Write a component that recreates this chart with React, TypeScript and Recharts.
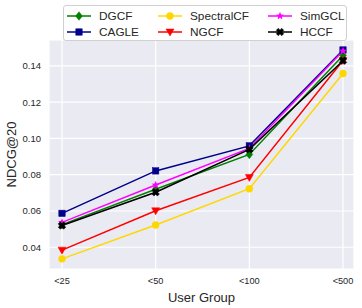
import React from 'react';
import { LineChart, Line, XAxis, YAxis, CartesianGrid, Legend, Label } from 'recharts';

const groups = ['<25', '<50', '<100', '<500'];
const dgcf = [0.0525, 0.0720, 0.0912, 0.1458];
const cagle = [0.0587, 0.0821, 0.0959, 0.1488];
const spectralcf = [0.0336, 0.0523, 0.0723, 0.1358];
const ngcf = [0.0384, 0.0601, 0.0785, 0.1430];
const simgcl = [0.0537, 0.0743, 0.0945, 0.1482];
const hccf = [0.0520, 0.0703, 0.0940, 0.1429];
const yTicks = [0.04, 0.06, 0.08, 0.10, 0.12, 0.14];

const seriesDefs = [
  { key: 'DGCF', values: dgcf, color: '#008000', shape: 'diamond' },
  { key: 'CAGLE', values: cagle, color: '#00008B', shape: 'square' },
  { key: 'SpectralCF', values: spectralcf, color: '#FFD700', shape: 'circle' },
  { key: 'NGCF', values: ngcf, color: '#FF0000', shape: 'triangle' },
  { key: 'SimGCL', values: simgcl, color: '#FF00FF', shape: 'star' },
  { key: 'HCCF', values: hccf, color: '#000000', shape: 'x' },
];

const data = groups.map((g, i) => {
  const row: any = { group: g };
  seriesDefs.forEach((s) => { row[s.key] = s.values[i]; });
  return row;
});

const FONT = '"Liberation Sans", Arial, Helvetica, sans-serif';

function MarkerShape({ shape, cx, cy, color }: any) {
  switch (shape) {
    case 'diamond':
      return <polygon points={`${cx},${cy - 4.3} ${cx + 3.4},${cy} ${cx},${cy + 4.3} ${cx - 3.4},${cy}`} fill={color} stroke={color} strokeWidth={0.5} />;
    case 'square':
      return <rect x={cx - 3.2} y={cy - 3.2} width={6.4} height={6.4} fill={color} stroke={color} strokeWidth={0.5} />;
    case 'circle':
      return <circle cx={cx} cy={cy} r={3.7} fill={color} />;
    case 'triangle':
      return <polygon points={`${cx - 4},${cy - 3} ${cx + 4},${cy - 3} ${cx},${cy + 4}`} fill={color} stroke={color} strokeWidth={0.5} />;
    case 'star': {
      const pts: string[] = [];
      for (let k = 0; k < 10; k++) {
        const r = k % 2 === 0 ? 4.2 : 1.8;
        const a = -Math.PI / 2 + (k * Math.PI) / 5;
        pts.push(`${cx + r * Math.cos(a)},${cy + r * Math.sin(a)}`);
      }
      return <polygon points={pts.join(' ')} fill={color} />;
    }
    case 'x': {
      const s = 3.8, w = 2.1;
      const p = [
        [-s, -s + w], [-s + w, -s], [0, -w], [s - w, -s], [s, -s + w], [w, 0],
        [s, s - w], [s - w, s], [0, w], [-s + w, s], [-s, s - w], [-w, 0],
      ];
      return <polygon points={p.map(([x, y]) => `${cx + x},${cy + y}`).join(' ')} fill={color} stroke={color} strokeWidth={0.4} />;
    }
    default:
      return null;
  }
}

const legendPos = [
  { left: 4, top: 9.7 }, { left: 4, top: 25.7 },
  { left: 95, top: 9.7 }, { left: 95, top: 25.7 },
  { left: 205, top: 9.7 }, { left: 205, top: 25.7 },
];

function LegendContent() {
  return (
    <div style={{ position: 'relative', width: 284, height: 36, background: 'rgba(255,255,255,0.85)', border: '1px solid #d0d0d0', borderRadius: 3, boxSizing: 'border-box', fontFamily: FONT }}>
      {seriesDefs.map((s, i) => (
        <div key={s.key} style={{ position: 'absolute', left: legendPos[i].left - 1, top: legendPos[i].top - 6, height: 12, display: 'flex', alignItems: 'center' }}>
          <svg width={24} height={12} style={{ display: 'block' }}>
            <line x1={0} y1={6} x2={24} y2={6} stroke={s.color} strokeWidth={1.5} />
            <MarkerShape shape={s.shape} cx={12} cy={6} color={s.color} />
          </svg>
          <span style={{ marginLeft: 8, fontSize: 11.8, color: '#262626', lineHeight: '12px', whiteSpace: 'nowrap' }}>{s.key}</span>
        </div>
      ))}
    </div>
  );
}

export default function App() {
  return (
    <div style={{ width: 362, height: 308, position: 'relative', background: '#fff' }}>
      <style>{`body{margin:0}`}</style>
      <LineChart width={362} height={308} data={data} margin={{ top: 40, right: 8, left: 0, bottom: 0 }}>
        <CartesianGrid fill="#EAEAF2" stroke="#FFFFFF" strokeWidth={1.2} />
        <XAxis
          dataKey="group"
          height={39}
          padding={{ left: 13, right: 11 }}
          axisLine={false}
          tickLine={false}
          tickSize={0}
          tickMargin={8}
          tick={{ fontSize: 9.2, fill: '#262626', fontFamily: FONT }}
        >
          <Label value="User Group" position="insideBottom" offset={6} style={{ fontSize: 13, fill: '#262626', fontFamily: FONT }} />
        </XAxis>
        <YAxis
          width={49}
          domain={[0.028, 0.1543]}
          ticks={yTicks}
          allowDataOverflow
          axisLine={false}
          tickLine={false}
          tickSize={0}
          tickMargin={8}
          tickFormatter={(v: number) => v.toFixed(2)}
          tick={{ fontSize: 9.5, fill: '#262626', fontFamily: FONT }}
        >
          <Label
            content={() => (
              <text x={16} y={154.5} transform="rotate(-90 16 154.5)" textAnchor="middle" style={{ fontSize: 13, fill: '#262626', fontFamily: FONT }}>NDCG@20</text>
            )}
          />
        </YAxis>
        <Legend
          layout="vertical"
          align="center"
          verticalAlign="middle"
          wrapperStyle={{ position: 'absolute', left: 63, top: 5, width: 284, height: 36 }}
          content={() => <LegendContent />}
        />
        {seriesDefs.map((s) => (
          <Line
            key={s.key}
            type="linear"
            dataKey={s.key}
            stroke={s.color}
            strokeWidth={1.5}
            isAnimationActive={false}
            dot={(p: any) => <MarkerShape key={`${s.key}-${p.index}`} shape={s.shape} cx={p.cx} cy={p.cy} color={s.color} />}
            activeDot={false}
          />
        ))}
      </LineChart>
    </div>
  );
}
